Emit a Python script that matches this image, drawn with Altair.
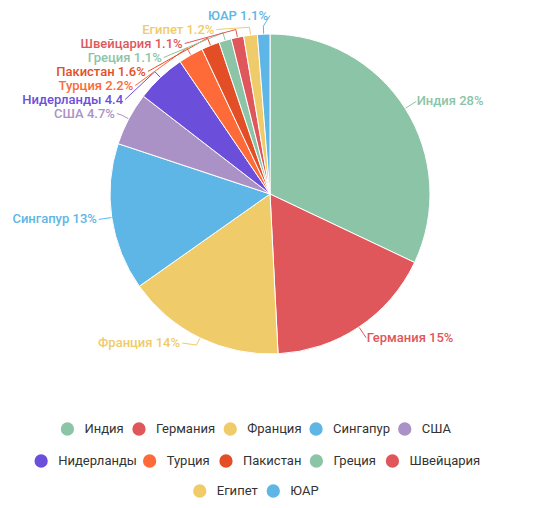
import math
import altair as alt
import pandas as pd

# ---------------- data ----------------
countries = ["Индия", "Германия", "Франция", "Сингапур", "США", "Нидерланды",
             "Турция", "Пакистан", "Греция", "Швейцария", "Египет", "ЮАР"]
shares = [28, 15, 14, 13, 4.7, 4.4, 2.2, 1.6, 1.1, 1.1, 1.2, 1.1]
label_texts = ["Индия 28%", "Германия 15%", "Франция 14%", "Сингапур 13%", "США 4.7%",
               "Нидерланды 4.4", "Турция 2.2%", "Пакистан 1.6%", "Греция 1.1%",
               "Швейцария 1.1%", "Египет 1.2%", "ЮАР 1.1%"]
colors = ["#8cc4a7", "#e0575b", "#f0cb69", "#5db6e5", "#ab92c6", "#6b4fdb",
          "#fe6a38", "#e44e26", "#8cc4a7", "#e0575b", "#f0cb69", "#5db6e5"]
legend_rows = [[0, 1, 2, 3, 4], [5, 6, 7, 8, 9], [10, 11]]

# ---------------- layout constants ----------------
W, H = 527, 492
CX, CY = 262.0, 186.0
R, R_TICK, R_LABEL = 160.0, 168.0, 173.0
LINE_H = 14.0
LABEL_TOP, LABEL_BOTTOM = 0.5, 342.0
LEG_CX = 247.0
LEG_Y = [421.0, 453.0, 483.0]
FONT = "Roboto"

n = len(countries)
total = sum(shares)
mids = []
cum = 0.0
for v in shares:
    mids.append((cum + v / 2) / total * 2 * math.pi)
    cum += v


def polar(r, a):
    return CX + r * math.sin(a), CY - r * math.cos(a)


def distribute(keys, targets):
    groups = [[k] for k in sorted(keys, key=lambda k: targets[k])]

    def place(g):
        c = sum(targets[k] for k in g) / len(g)
        size = LINE_H * len(g)
        return min(max(c - size / 2, LABEL_TOP), LABEL_BOTTOM - size)

    while True:
        pos = [place(g) for g in groups]
        merged = False
        for i in range(len(groups) - 1, 0, -1):
            if pos[i - 1] + LINE_H * len(groups[i - 1]) > pos[i] + 1e-9:
                groups[i - 1] = groups[i - 1] + groups.pop(i)
                merged = True
                break
        if not merged:
            break
    out = {}
    for g, p in zip(groups, pos):
        for j, k in enumerate(g):
            out[k] = p + LINE_H * (j + 0.5)
    return out


targets = {k: polar(R_LABEL, mids[k])[1] for k in range(n)}
left = [k for k in range(n) if mids[k] > math.pi]
right = [k for k in range(n) if mids[k] <= math.pi]
ys = {}
ys.update(distribute(left, targets))
ys.update(distribute(right, targets))

label_rows, line_rows = [], []
for k in range(n):
    y = ys[k]
    dy = y - CY
    dx = math.sqrt(max(R_LABEL ** 2 - dy ** 2, 0.0))
    side = -1 if k in left else 1
    x = CX + side * dx
    label_rows.append(dict(country=countries[k], text=label_texts[k],
                           x=x + side * (2 if side < 0 else 0.5), y=y,
                           side="left" if side < 0 else "right"))
    pts = [(x, y), polar(R_TICK, mids[k]), polar(R + 0.5, mids[k])]
    for j, (px, py) in enumerate(pts):
        line_rows.append(dict(country=countries[k], pt=j, x=px, y=py))

# approximate Roboto 13px advance widths
cw = {"И": 9.06, "Г": 6.7, "Ф": 9.4, "С": 8.5, "Н": 9.06, "Т": 7.76, "П": 9.06,
      "Ш": 12.2, "Е": 7.4, "Ю": 11.6, "А": 8.5, "Р": 8.2,
      "а": 7.07, "е": 6.87, "р": 7.26, "с": 6.8, "у": 6.15, "и": 7.16, "н": 7.16,
      "д": 7.4, "я": 6.9, "г": 4.9, "м": 8.9, "п": 7.16, "ц": 7.4, "л": 7.2,
      "ы": 9.2, "к": 6.6, "т": 6.2, "й": 7.16, "ш": 10.0, " ": 3.2}


def text_w(s):
    return 0.97 * sum(cw.get(c, 7.0) for c in s)


leg_rows = []
for r_i, row in enumerate(legend_rows):
    items = []
    xpos = 0.0
    for idx, k in enumerate(row):
        if idx > 0:
            xpos += 18.0
        c = xpos
        t = c + 17.0
        xpos = t + text_w(countries[k])
        items.append((k, c, t))
    left_edge = -7.5
    shift = LEG_CX - (left_edge + xpos) / 2
    for k, c, t in items:
        leg_rows.append(dict(country=countries[k], cx=c + shift, tx=t + shift, y=LEG_Y[r_i]))

pie_df = pd.DataFrame({"country": countries, "share": shares, "idx": list(range(n))})
lab_df = pd.DataFrame(label_rows)
line_df = pd.DataFrame(line_rows)
leg_df = pd.DataFrame(leg_rows)

xs = alt.Scale(domain=[0, W], nice=False, zero=False)
ysc = alt.Scale(domain=[0, H], nice=False, zero=False, reverse=True)
col = alt.Color("country:N", scale=alt.Scale(domain=countries, range=colors), legend=None)

pie = alt.Chart(pie_df).mark_arc(outerRadius=R, stroke="white", strokeWidth=1).encode(
    theta=alt.Theta("share:Q", stack=True),
    order=alt.Order("idx:Q", sort="ascending"),
    color=col,
    x=alt.XDatum(CX, type="quantitative", scale=xs, axis=None),
    y=alt.YDatum(CY, type="quantitative", scale=ysc, axis=None),
)

lines = alt.Chart(line_df).mark_line(strokeWidth=1, interpolate="linear").encode(
    x=alt.X("x:Q", scale=xs, axis=None),
    y=alt.Y("y:Q", scale=ysc, axis=None),
    order=alt.Order("pt:Q"),
    detail="country:N",
    color=col,
)

lab_left = alt.Chart(lab_df).transform_filter(alt.datum.side == "left").mark_text(
    align="right", baseline="middle", font=FONT, fontSize=13, fontWeight=500
).encode(
    x=alt.X("x:Q", scale=xs, axis=None),
    y=alt.Y("y:Q", scale=ysc, axis=None),
    text="text:N",
    color=col,
)

lab_right = alt.Chart(lab_df).transform_filter(alt.datum.side == "right").mark_text(
    align="left", baseline="middle", font=FONT, fontSize=13, fontWeight=500
).encode(
    x=alt.X("x:Q", scale=xs, axis=None),
    y=alt.Y("y:Q", scale=ysc, axis=None),
    text="text:N",
    color=col,
)

leg_sym = alt.Chart(leg_df).mark_circle(size=177, opacity=1).encode(
    x=alt.X("cx:Q", scale=xs, axis=None),
    y=alt.Y("y:Q", scale=ysc, axis=None),
    color=col,
)

leg_txt = alt.Chart(leg_df).mark_text(
    align="left", baseline="middle", font=FONT, fontSize=13, color="#333333"
).encode(
    x=alt.X("tx:Q", scale=xs, axis=None),
    y=alt.Y("y:Q", scale=ysc, axis=None),
    text="country:N",
)

chart = alt.layer(pie, lines, lab_left, lab_right, leg_sym, leg_txt).properties(
    width=W, height=H, padding=0,
    autosize=alt.AutoSizeParams(type="none"),
    background="white",
).configure_view(strokeWidth=0)

chart.save("out.html", embed_options={"renderer": "svg", "actions": False})
